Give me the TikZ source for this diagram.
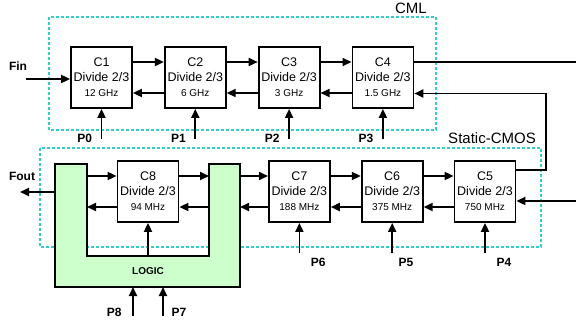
\documentclass[tikz,border=0pt]{standalone}
\usepackage{fontspec}
\setmainfont{Liberation Sans}
\usetikzlibrary{arrows.meta, positioning}
\definecolor{DivGreen}{RGB}{204,255,204}
\definecolor{DivCyan}{RGB}{51,204,204}

\tikzset{
  divider/.style={draw, line width=1.8pt, fill=white, minimum width=61pt,
    minimum height=61pt, inner sep=0pt, align=center,
    font=\fontsize{12.5}{15}\selectfont},
  sig/.style={line width=1.8pt, -{Triangle[length=9pt,width=8pt]}},
  wire/.style={line width=1.8pt},
  dombox/.style={DivCyan, line width=1.5pt, dash pattern=on 3pt off 2pt},
  plab/.style={font=\fontsize{12}{14}\selectfont\bfseries},
  dlab/.style={font=\fontsize{15}{18}\selectfont}
}

\begin{document}
\begin{tikzpicture}[x=1pt,y=-1pt]
  \useasboundingbox (0,0) rectangle (576,324);

  % CML and Static-CMOS domains
  \draw[dombox] (49,17) rectangle (436,130);
  \draw[dombox] (40,148) rectangle (541,247);
  \node[dlab] (cml) at (411,8) {CML};
  \node[dlab] (cmos) at (492,138) {Static-CMOS};

  % U-shaped logic block
  \draw[wire, fill=DivGreen] (55,164) -- (87,164) -- (87,256) -- (209,256) --
    (209,164) -- (240,164) -- (240,287) -- (55,287) -- cycle;
  \node[font=\fontsize{10}{12}\selectfont\bfseries] (logic) at (148,271) {LOGIC};
  \coordinate (lgLout) at (55,192);
  \coordinate (lgLin) at (87,191.5);
  \coordinate (lgRin) at (209,191.5);
  \coordinate (lgRout) at (240,191.5);
  \coordinate (lgU) at (148,256);
  \coordinate (lgB) at (148,287);

  % CML chain
  \node[divider] (c1) at (101.5,77.5) {C1\\Divide 2/3\\{\fontsize{10}{12}\selectfont 12 GHz}};
  \node[divider, right=31pt of c1] (c2) {C2\\Divide 2/3\\{\fontsize{10}{12}\selectfont 6 GHz}};
  \node[divider, right=31pt of c2] (c3) {C3\\Divide 2/3\\{\fontsize{10}{12}\selectfont 3 GHz}};
  \node[divider, right=31pt of c3] (c4) {C4\\Divide 2/3\\{\fontsize{10}{12}\selectfont 1.5 GHz}};

  % Static-CMOS chain
  \node[divider] (c5) at (485,191.5) {C5\\Divide 2/3\\{\fontsize{10}{12}\selectfont 750 MHz}};
  \node[divider, left=30pt of c5] (c6) {C6\\Divide 2/3\\{\fontsize{10}{12}\selectfont 375 MHz}};
  \node[divider, left=30pt of c6] (c7) {C7\\Divide 2/3\\{\fontsize{10}{12}\selectfont 188 MHz}};
  \node[divider] (c8) at (148,191.5) {C8\\Divide 2/3\\{\fontsize{10}{12}\selectfont 94 MHz}};

  % clock forward / modulus back
  \foreach \a/\b in {c1/c2, c2/c3, c3/c4, c7/c6, c6/c5} {
    \draw[sig] ([yshift=15.5pt]\a.east) -- ([yshift=15.5pt]\b.west);
    \draw[sig] ([yshift=-15.5pt]\b.west) -- ([yshift=-15.5pt]\a.east);
  }
  \draw[sig] ([yshift=15.5pt]lgLin) -- ([yshift=15.5pt]c8.west);
  \draw[sig] ([yshift=15.5pt]c8.east) -- ([yshift=15.5pt]lgRin);
  \draw[sig] ([yshift=15.5pt]lgRout) -- ([yshift=15.5pt]c7.west);
  \draw[sig] ([yshift=-15.5pt]c7.west) -- ([yshift=-15.5pt]lgRout);
  \draw[sig] ([yshift=-15.5pt]lgRin) -- ([yshift=-15.5pt]c8.east);
  \draw[sig] ([yshift=-15.5pt]c8.west) -- ([yshift=-15.5pt]lgLin);
  \draw[sig] (lgU) -- (c8.south);

  % in / out
  \coordinate (fin) at (26,79);
  \node[plab] (lfin) at (18,66) {Fin};
  \draw[sig] (fin) -- (fin -| c1.west);
  \coordinate (fout) at (20,192);
  \node[plab] (lfout) at (22,176) {Fout};
  \draw[sig] (lgLout) -- (fout);
  \coordinate (outR) at (576,62);
  \draw[wire] ([yshift=15.5pt]c4.east) -- (outR);
  \coordinate (inR) at (576,201);
  \draw[sig] (inR) -- (inR -| c5.east);
  \coordinate (loopx) at (546,0);
  \coordinate (c4in) at ([yshift=-16pt]c4.east);
  \draw[sig] ([yshift=21.5pt]c5.east) -| (c4in -| loopx) -- (c4in);

  % modulus controls
  \foreach \c/\p in {c1/P0, c2/P1, c3/P2, c4/P3} {
    \coordinate (\p) at (\c.south |- 0,139);
    \draw[sig] (\p) -- (\c.south);
    \node[plab, anchor=east] (l\p) at ([xshift=-6pt,yshift=1pt]\p) {\p};
  }
  \foreach \c/\p/\dx in {c5/P4/8, c6/P5/3, c7/P6/8} {
    \coordinate (\p) at (\c.south |- 0,253);
    \draw[sig] (\p) -- (\c.south);
    \node[plab, anchor=west] (l\p) at ([xshift=\dx pt,yshift=-9pt]\p) {\p};
  }
  \coordinate (P8) at (133,316);
  \coordinate (P7) at (163,316);
  \draw[sig] (P8) -- (P8 |- lgB);
  \draw[sig] (P7) -- (P7 |- lgB);
  \node[plab, anchor=east] (lP8) at ([xshift=-8pt,yshift=4pt]P8) {P8};
  \node[plab, anchor=west] (lP7) at ([xshift=5pt,yshift=4pt]P7) {P7};
\end{tikzpicture}
\end{document}
